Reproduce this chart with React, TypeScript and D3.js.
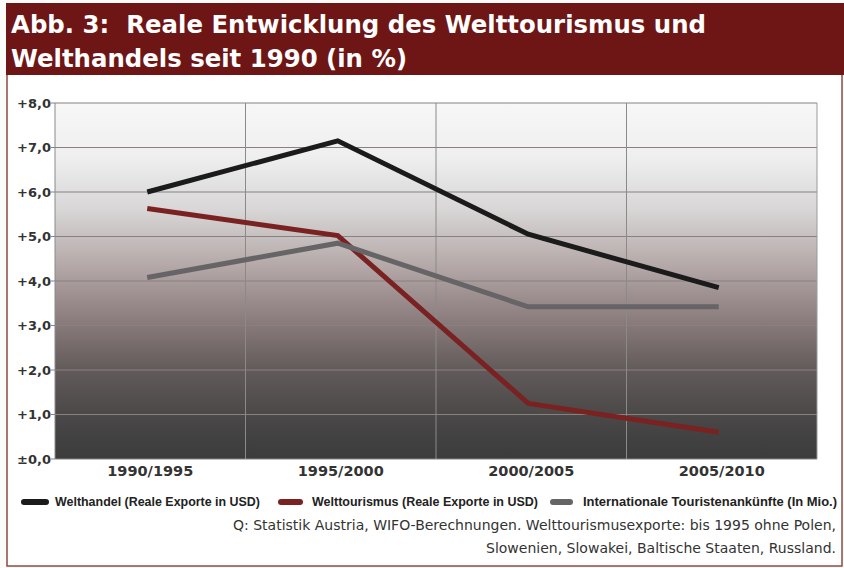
import React from "react";
import * as d3 from "d3";

const categories = ["1990/1995", "1995/2000", "2000/2005", "2005/2010"];
const welthandel = [6.0, 7.15, 5.05, 3.85];
const welttourismus = [5.63, 5.02, 1.25, 0.6];
const touristen = [4.08, 4.85, 3.42, 3.42];
const yTicks = [0, 1, 2, 3, 4, 5, 6, 7, 8];
const seriesNames = [
  "Welthandel (Reale Exporte in USD)",
  "Welttourismus (Reale Exporte in USD)",
  "Internationale Touristenankünfte (In Mio.)",
];
const seriesColors = ["#1b1b1b", "#7a2222", "#666466"];
const titleLines = [
  "Abb. 3:  Reale Entwicklung des Welttourismus und",
  "Welthandels seit 1990 (in %)",
];
const sourceLines = [
  "Q: Statistik Austria, WIFO-Berechnungen. Welttourismusexporte: bis 1995 ohne Polen,",
  "Slowenien, Slowakei, Baltische Staaten, Russland.",
];

const W = 844;
const H = 568;
const plot = { left: 55, right: 817, top: 103, bottom: 459 };

export default function App() {
  const x = d3
    .scaleBand<string>()
    .domain(categories)
    .range([plot.left, plot.right])
    .paddingInner(0)
    .paddingOuter(0);
  const y = d3.scaleLinear().domain([0, 8]).range([plot.bottom, plot.top]);
  const line = d3
    .line<number>()
    .x((_, i) => (x(categories[i]) as number) + x.bandwidth() / 2 - 3)
    .y((d) => y(d));

  const allSeries = [welthandel, welttourismus, touristen];
  const fmt = (v: number) => (v === 0 ? "±0,0" : "+" + v.toFixed(1).replace(".", ","));

  const legendX = [21, 278, 550];
  const legendW = [28, 25, 23];
  const legendTextX = [55, 312, 583];
  const legendTextW = [205, 226, 254];

  return (
    <svg
      width={W}
      height={H}
      style={{ position: "absolute", left: 0, top: 0 }}
      fontFamily="'DejaVu Sans', Verdana, sans-serif"
    >
      <defs>
        <linearGradient id="bg" x1="0" y1="0" x2="0" y2="1">
          <stop offset="0" stopColor="#f7f7f7" />
          <stop offset="0.15" stopColor="#efefef" />
          <stop offset="0.3" stopColor="#d8d6d6" />
          <stop offset="0.45" stopColor="#b6aaaa" />
          <stop offset="0.6" stopColor="#8e7f80" />
          <stop offset="0.75" stopColor="#625a5a" />
          <stop offset="0.9" stopColor="#474545" />
          <stop offset="1" stopColor="#3c3c3c" />
        </linearGradient>
      </defs>
      <rect x={0} y={0} width={W} height={H} fill="#fbfbf9" />
      {/* frame */}
      <rect x={7} y={4} width={W - 9} height={H - 6} fill="#ffffff" stroke="#8e4a42" strokeWidth={1.5} />
      {/* title band */}
      <rect x={6} y={3} width={W - 6} height={72} fill="#6e1616" />
      {titleLines.map((t, i) => (
        <text
          key={"t" + i}
          x={11}
          y={33 + i * 34}
          fill="#ffffff"
          fontSize={24.4}
          fontWeight="bold"
          xmlSpace="preserve"
          style={{ whiteSpace: "pre" }}
        >
          {t}
        </text>
      ))}

      {/* plot background */}
      <rect
        x={plot.left}
        y={plot.top}
        width={plot.right - plot.left}
        height={plot.bottom - plot.top}
        fill="url(#bg)"
      />
      {/* horizontal gridlines */}
      {yTicks.map((t) => (
        <line
          key={"h" + t}
          x1={plot.left - 4}
          x2={plot.right}
          y1={y(t)}
          y2={y(t)}
          stroke="#8a8080"
          strokeWidth={1}
        />
      ))}
      {/* vertical gridlines */}
      {categories.map((c) => (
        <line
          key={"v" + c}
          x1={x(c) as number}
          x2={x(c) as number}
          y1={plot.top}
          y2={plot.bottom}
          stroke="#8a8a8a"
          strokeWidth={1}
        />
      ))}
      <line x1={plot.right} x2={plot.right} y1={plot.top} y2={plot.bottom} stroke="#9a9a9a" />

      {/* y labels */}
      {yTicks.map((t) => (
        <text
          key={"yl" + t}
          x={plot.left - 4}
          y={y(t) + 4.5}
          textAnchor="end"
          fontSize={13}
          fontWeight="bold"
          fill="#333"
        >
          {fmt(t)}
        </text>
      ))}
      {/* x labels */}
      {categories.map((c) => (
        <text
          key={"xl" + c}
          x={(x(c) as number) + x.bandwidth() / 2}
          y={476}
          textAnchor="middle"
          fontSize={14.5}
          fontWeight="bold"
          fill="#333"
        >
          {c}
        </text>
      ))}

      {/* lines */}
      {allSeries.map((s, i) => (
        <path
          key={"s" + i}
          d={line(s) as string}
          fill="none"
          stroke={seriesColors[i]}
          strokeWidth={5}
          strokeLinejoin="miter"
        />
      ))}

      {/* legend */}
      {seriesNames.map((n, i) => (
        <g key={"lg" + i}>
          <line
            x1={legendX[i] + 3}
            x2={legendX[i] + legendW[i] - 3}
            y1={502}
            y2={502}
            stroke={seriesColors[i]}
            strokeWidth={6}
            strokeLinecap="round"
          />
          <text
            x={legendTextX[i]}
            y={506}
            fontSize={12.5}
            fontWeight="bold"
            fill="#222"
            textLength={legendTextW[i]}
            lengthAdjust="spacingAndGlyphs"
            fontFamily="'Liberation Sans Narrow', 'Arial Narrow', 'Liberation Sans', sans-serif"
          >
            {n}
          </text>
        </g>
      ))}

      {/* source */}
      {sourceLines.map((s, i) => (
        <text
          key={"src" + i}
          x={836}
          y={530 + i * 23}
          textAnchor="end"
          fontSize={14}
          fill="#333"
        >
          {s}
        </text>
      ))}
    </svg>
  );
}
